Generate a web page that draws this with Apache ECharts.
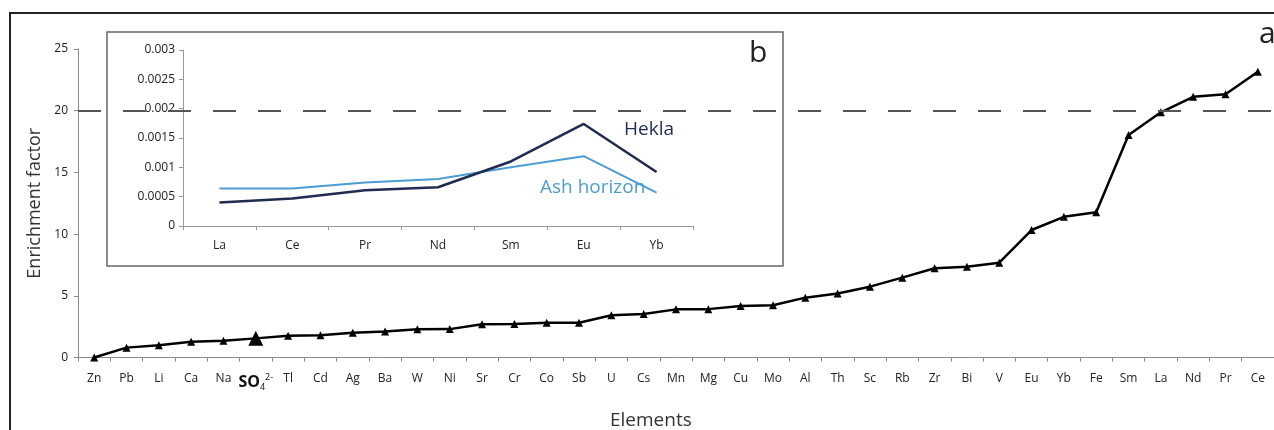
<!DOCTYPE html>
<html>
<head>
<meta charset="utf-8">
<script src="https://cdn.jsdelivr.net/npm/echarts@6/dist/echarts.min.js"></script>
<style>html,body{margin:0;padding:0;background:#fff}#c{width:1274px;height:430px}</style>
</head>
<body>
<div id="c"></div>
<script>
const categories = ['Zn','Pb','Li','Ca','Na','SO4','Tl','Cd','Ag','Ba','W','Ni','Sr','Cr','Co','Sb','U','Cs','Mn','Mg','Cu','Mo','Al','Th','Sc','Rb','Zr','Bi','V','Eu','Yb','Fe','Sm','La','Nd','Pr','Ce'];
const enrichment = [0,0.8,1.0,1.28,1.36,1.55,1.77,1.8,2.0,2.1,2.28,2.3,2.7,2.72,2.82,2.82,3.42,3.52,3.9,3.92,4.17,4.23,4.85,5.18,5.74,6.47,7.23,7.36,7.68,10.33,11.4,11.77,18.03,19.87,21.13,21.33,23.16];
const threshold = 20;
const highlighted = 'SO4';
const reeCategories = ['La','Ce','Pr','Nd','Sm','Eu','Yb'];
const hekla = [0.0004,0.00047,0.00061,0.00066,0.0011,0.00174,0.00092];
const ashHorizon = [0.00064,0.00064,0.00074,0.0008,0.001,0.00119,0.00057];

const FONT = '"Open Sans", "Noto Sans", sans-serif';
const chart = echarts.init(document.getElementById('c'), null, {renderer: 'canvas'});

const option = {
  backgroundColor: '#fff',
  animation: false,
  textStyle: {fontFamily: FONT},
  grid: [
    {left: 78, right: 0, top: 49, bottom: 72.5},
    {left: 183, right: 581, top: 50, bottom: 204}
  ],
  xAxis: [
    {
      gridIndex: 0, type: 'category', data: categories, boundaryGap: true,
      axisLine: {lineStyle: {color: '#8a8a8a', width: 1}},
      axisTick: {show: true, length: 4, interval: 0, lineStyle: {color: '#8a8a8a'}},
      axisLabel: {
        interval: 0, margin: 15, color: '#222', fontSize: 12, fontFamily: FONT,
        formatter: v => v === highlighted ? '{so|SO}{sub|4}{sup|2-}' : v,
        rich: {
          so: {fontSize: 16, fontWeight: 'bold', color: '#111', fontFamily: FONT},
          sub: {fontSize: 9, color: '#111', padding: [10, 0, 0, 0], fontFamily: FONT},
          sup: {fontSize: 9, color: '#111', padding: [0, 0, 10, 0], fontFamily: FONT}
        }
      }
    },
    {
      gridIndex: 1, type: 'category', data: reeCategories, boundaryGap: true,
      axisLine: {lineStyle: {color: '#999', width: 1}},
      axisTick: {show: true, length: 4, interval: 0, lineStyle: {color: '#999'}},
      axisLabel: {interval: 0, margin: 14, color: '#222', fontSize: 12, fontFamily: FONT}
    }
  ],
  yAxis: [
    {
      gridIndex: 0, type: 'value', min: 0, max: 25, interval: 5,
      name: 'Enrichment factor', nameLocation: 'middle', nameGap: 31,
      nameTextStyle: {fontSize: 18, color: '#333', fontFamily: FONT},
      axisLine: {show: true, lineStyle: {color: '#8a8a8a', width: 1}},
      axisTick: {show: true, length: 4, lineStyle: {color: '#8a8a8a'}},
      axisLabel: {margin: 10, color: '#222', fontSize: 12, fontFamily: FONT},
      splitLine: {show: false}
    },
    {
      gridIndex: 1, type: 'value', min: 0, max: 0.003, interval: 0.0005,
      axisLine: {show: true, lineStyle: {color: '#999', width: 1}},
      axisTick: {show: true, length: 4, lineStyle: {color: '#999'}},
      axisLabel: {margin: 8, color: '#222', fontSize: 12, fontFamily: FONT},
      splitLine: {show: false}
    }
  ],
  series: [
    {
      name: 'Ash horizon', type: 'line', xAxisIndex: 1, yAxisIndex: 1,
      data: ashHorizon, symbol: 'none', lineStyle: {color: '#4b9dd2', width: 2}
    },
    {
      name: 'Hekla', type: 'line', xAxisIndex: 1, yAxisIndex: 1,
      data: hekla, symbol: 'none', lineStyle: {color: '#1f2b50', width: 2.5}
    },
    {
      name: 'Enrichment factor', type: 'line', xAxisIndex: 0, yAxisIndex: 0,
      data: enrichment.map((v, i) => categories[i] === highlighted
        ? {value: v, symbolSize: 15} : v),
      symbol: 'triangle', symbolSize: 8,
      itemStyle: {color: '#000'},
      lineStyle: {color: '#000', width: 2.5},
      markLine: {
        silent: true, symbol: 'none',
        label: {show: false},
        lineStyle: {color: '#555', width: 2, type: [23, 22]},
        data: [{yAxis: threshold}]
      }
    }
  ],
  graphic: [
    {type: 'rect', z: -1, shape: {x: 10, y: 13, width: 1300, height: 500},
     style: {fill: '#fff', stroke: '#222', lineWidth: 2}},
    {type: 'rect', z: -1, shape: {x: 107, y: 32, width: 676, height: 234},
     style: {fill: '#fff', stroke: '#666', lineWidth: 1.5}},
    {type: 'text', z: 10, left: 749, top: 38,
     style: {text: 'b', fontSize: 30, fill: '#222', fontFamily: FONT}},
    {type: 'text', z: 10, left: 1259, top: 19,
     style: {text: 'a', fontSize: 30, fill: '#222', fontFamily: FONT}},
    {type: 'text', z: 10, left: 624, top: 120,
     style: {text: 'Hekla', fontSize: 19, fill: '#1f2b50', fontFamily: FONT}},
    {type: 'text', z: 10, left: 540, top: 178,
     style: {text: 'Ash horizon', fontSize: 19, fill: '#4b9dd2', fontFamily: FONT}},
    {type: 'text', z: 10, left: 610, top: 411,
     style: {text: 'Elements', fontSize: 19, fill: '#333', fontFamily: FONT}}
  ]
};
chart.setOption(option);
</script>
</body>
</html>
